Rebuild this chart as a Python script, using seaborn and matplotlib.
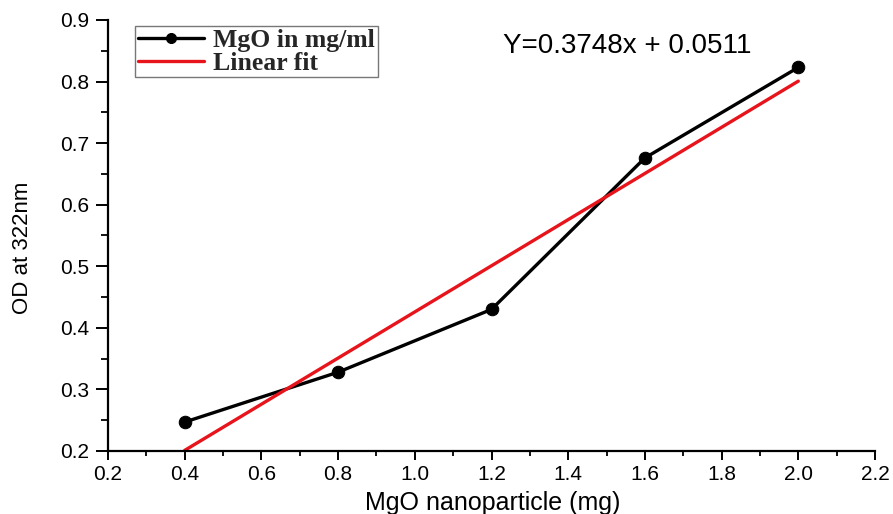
import matplotlib
matplotlib.use("Agg")
import matplotlib.pyplot as plt
from matplotlib.ticker import MultipleLocator
import numpy as np
import pandas as pd
import seaborn as sns

# Measured optical density vs. MgO amount
dose_mg = [0.4, 0.8, 1.2, 1.6, 2.0]
od_322 = [0.247, 0.328, 0.430, 0.676, 0.823]

# Linear fit coefficients
slope = 0.3748
intercept = 0.0511

x_ticks = [0.2, 0.4, 0.6, 0.8, 1.0, 1.2, 1.4, 1.6, 1.8, 2.0, 2.2]
y_ticks = [0.2, 0.3, 0.4, 0.5, 0.6, 0.7, 0.8, 0.9]

sns.set_theme(style="ticks")
plt.rcParams["font.family"] = ["Liberation Sans", "DejaVu Sans"]

df = pd.DataFrame({"dose": dose_mg, "od": od_322})
fit_x = np.array([dose_mg[0], dose_mg[-1]])
fit_df = pd.DataFrame({"dose": fit_x, "od": slope * fit_x + intercept})

W, H = 893, 514
fig = plt.figure(figsize=(W / 100, H / 100), dpi=100)
left, right, top, bottom = 108, 875, 20, 451
ax = fig.add_axes([left / W, 1 - bottom / H, (right - left) / W, (bottom - top) / H])

sns.lineplot(data=df, x="dose", y="od", ax=ax, color="black", lw=2.4,
             marker="o", markersize=9, markeredgecolor="black",
             label="MgO in mg/ml")
sns.lineplot(data=fit_df, x="dose", y="od", ax=ax, color="#e8141c", lw=2.4,
             label="Linear fit")

ax.set_xlim(0.2, 2.2)
ax.set_ylim(0.2, 0.9)
ax.set_xticks(x_ticks)
ax.set_yticks(y_ticks)
ax.set_xticklabels([f"{v:.1f}" for v in x_ticks])
ax.set_yticklabels([f"{v:.1f}" for v in y_ticks])
ax.xaxis.set_minor_locator(MultipleLocator(0.1))
ax.yaxis.set_minor_locator(MultipleLocator(0.05))

for s in ["top", "right"]:
    ax.spines[s].set_visible(False)
for s in ["left", "bottom"]:
    ax.spines[s].set_linewidth(1.6)
    ax.spines[s].set_color("black")

ax.tick_params(axis="x", which="major", direction="out", length=6.5, width=1.4,
               labelsize=15, colors="black", pad=3.5)
ax.tick_params(axis="x", which="minor", direction="out", length=3.6, width=1.3,
               colors="black")
ax.tick_params(axis="y", which="major", direction="out", length=8.5, width=1.4,
               labelsize=15, colors="black", pad=5)
ax.tick_params(axis="y", which="minor", direction="out", length=5, width=1.3,
               colors="black")

ax.set_xlabel("")
ax.set_ylabel("")
fig.text(493 / W, 1 - 510 / H, "MgO nanoparticle (mg)", fontsize=18,
         ha="center", va="baseline", color="black")
fig.text(23 / W, 1 - 248 / H, "OD at 322nm", fontsize=16, rotation=90,
         ha="center", va="center", color="black")

fig.text(503 / W, 1 - 46 / H, f"Y={slope}x + {intercept}", fontsize=20,
         ha="left", va="center", color="black")

leg = ax.legend(loc="upper left",
                bbox_to_anchor=((135 - left) / (right - left), 1 - (26 - top) / (bottom - top)),
                frameon=True, fancybox=False, edgecolor="#555555",
                prop={"family": ["Liberation Serif", "DejaVu Serif"],
                      "weight": "bold", "size": 18.5},
                handlelength=2.6, borderpad=0.1, labelspacing=0.0,
                handletextpad=0.35, borderaxespad=0, markerscale=0.8)
leg.get_frame().set_linewidth(1.0)

fig.savefig("out.png", dpi=100)
